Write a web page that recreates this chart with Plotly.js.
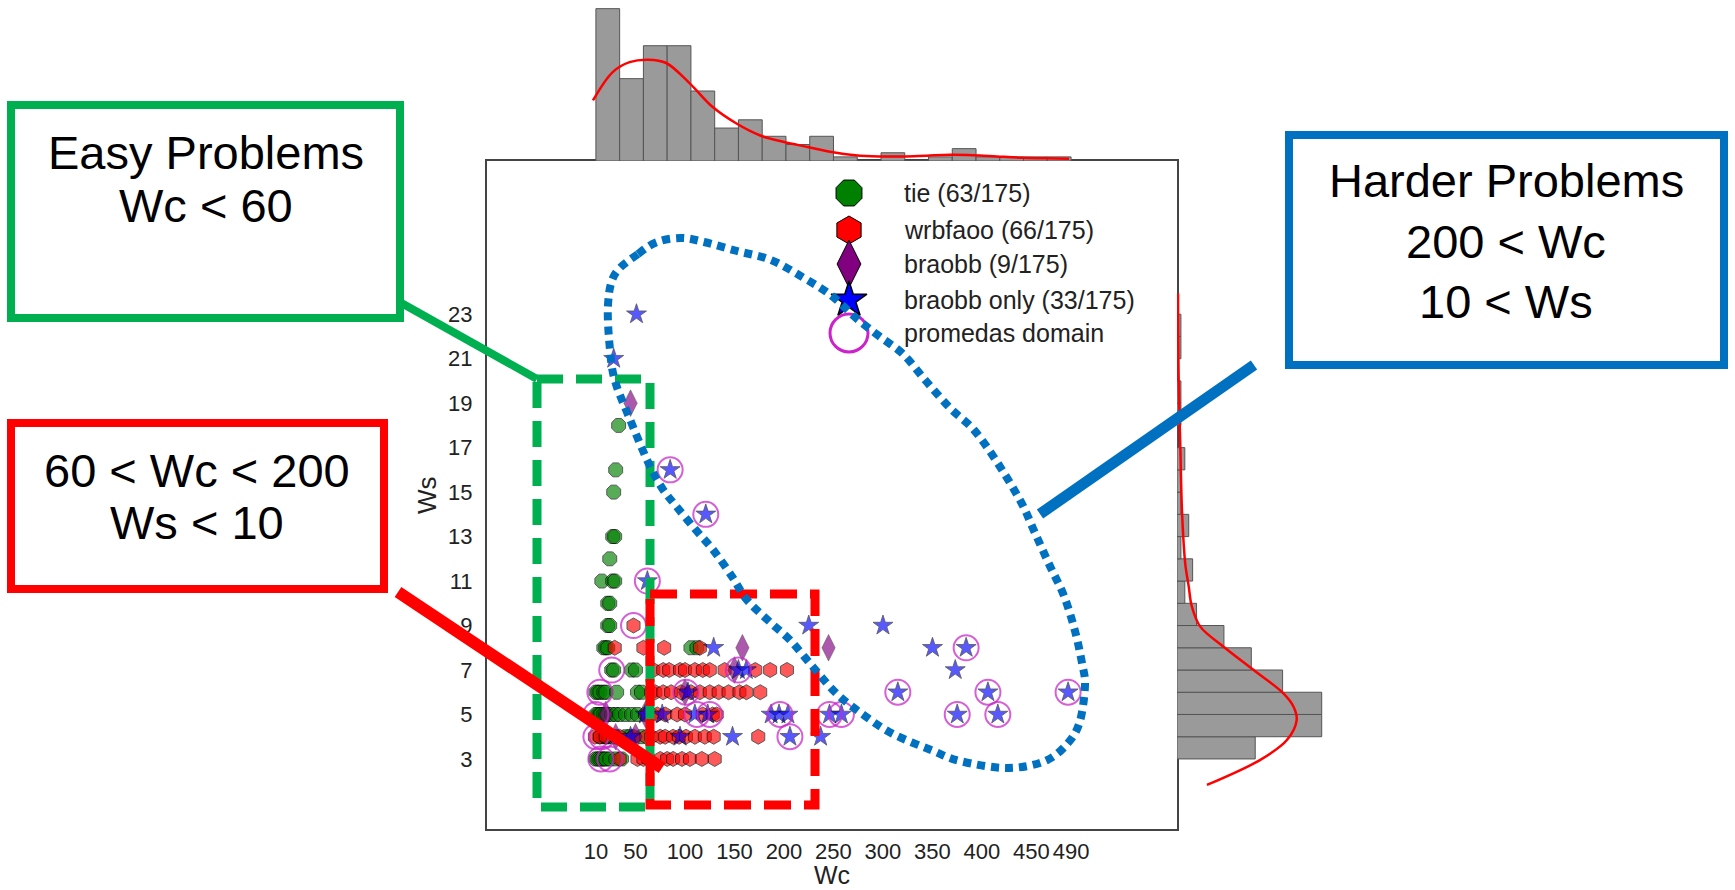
<!DOCTYPE html>
<html>
<head>
<meta charset="utf-8">
<script src="https://cdn.plot.ly/plotly-3.0.1.min.js"></script>
<style>html,body{margin:0;padding:0;background:#fff;}#chart{width:1735px;height:890px;}</style>
</head>
<body>
<div id="chart"></div>
<script>
// ---------------- data ----------------
const xTickVals = [10, 50, 100, 150, 200, 250, 300, 350, 400, 450, 490];
const yTickVals = [3, 5, 7, 9, 11, 13, 15, 17, 19, 21, 23];

// tie (63/175)
const tieX = [33,30,28,27,29,24,16,27,29,22,24,22,24,18,20,22,106,112,26,28,46,50,
  10,12,14,18,20,31,52,56,
  10,12,14,15,18,20,22,26,30,34,40,46,52,60,
  14,18,20,22,24,28,30,40,44,56,
  10,12,14,16,18,20,24,30,36];
const tieY = [18,16,15,13,13,12,11,11,11,10,10,9,9,8,8,8,8,8,7,7,7,7,
  6,6,6,6,6,6,6,6,
  5,5,5,5,5,5,5,5,5,5,5,5,5,5,
  4,4,4,4,4,4,4,4,4,4,
  3,3,3,3,3,3,3,3,3];

// wrbfaoo (66/175)
const wrbX = [48,
  29,58,79,115,
  68,78,84,95,100,110,118,125,140,171,186,203,
  66,70,78,86,96,106,115,125,134,144,155,162,176,
  62,66,72,80,92,100,118,128,132,
  9,14,20,34,48,61,66,75,80,88,94,101,110,120,129,174,
  34,52,58,63,75,82,88,97,105,117,130];
const wrbY = [9,
  8,8,8,8,
  7,7,7,7,7,7,7,7,7,7,7,7,
  6,6,6,6,6,6,6,6,6,6,6,6,6,
  5,5,5,5,5,5,5,5,5,
  4,4,4,4,4,4,4,4,4,4,4,4,4,4,4,4,
  3,3,3,3,3,3,3,3,3,3,3];

// braobb (9/175)
const braX = [45,158,245,50,20,60,100,150,30];
const braY = [19,8,8,4,5,5,6,7,4];

// braobb only (33/175)
const onlyX = [51,28,85,121,62,225,300,129,350,384,373,154,162,103,315,406,487,77,110,123,187,195,204,246,258,375,416,148,206,237,60,45,95];
const onlyY = [23,21,16,14,11,9,9,8,8,8,7,7,7,6,6,6,6,5,5,5,5,5,5,5,5,5,5,4,4,4,5,4,4];

// promedas domain
const promX = [85,121,62,48,384,26,154,315,406,487,14,101,112,125,196,246,258,375,416,10,206,10,16,15,24];
const promY = [16,14,11,9,8,7,7,6,6,6,6,6,5,5,5,5,5,5,5,5,4,4,4,3,3];

// marginal histogram of Wc (20 bins, 10..490)
const wcBinStart = 10, wcBinWidth = 24;
const wcCounts = [37,20,28,28,17,8,10,6,4,6,1,0,2,0,1,3,1,1,1,1];
const wcKdeX = [7,27,44,63,81,105,128,152,176,200,224,248,272,296,320,344,368,391,415,440,463,488];
const wcKdeY = [14.7,21.6,24.0,24.6,23.8,18.8,13.1,9.1,6.2,4.6,3.4,2.2,1.4,1.1,1.1,1.3,1.5,1.4,1.1,0.8,0.65,0.57];

// marginal histogram of Ws (20 bins, 3..23)
const wsBinStart = 3, wsBinWidth = 1;
const wsCounts = [20,37,37,27,19,12,5,2,4,1,3,1,1,2,0,1,1,0,1,1];
const wsKdeY = [1.83,2.96,3.85,4.75,5.35,5.95,7.0,8.05,8.95,9.85,10.75,11.8,14.05,17.04,20.04,23.94];
const wsKdeX = [7.65,21.3,28.1,30.6,29.8,27.2,19.6,11.9,5.95,3.8,3.0,2.1,1.3,0.85,0.43,0.26];

const legendLabels = ['tie (63/175)', 'wrbfaoo (66/175)', 'braobb (9/175)', 'braobb only (33/175)', 'promedas domain'];

// ---------------- layout helpers ----------------
const W = 1735, H = 890;
const fx = p => p / W, fy = p => 1 - p / H;
const BOX = {l: 487, r: 1177, t: 161, b: 829};

const wcCenters = wcCounts.map((c, i) => wcBinStart + wcBinWidth * (i + 0.5));
const wsCenters = wsCounts.map((c, i) => wsBinStart + wsBinWidth * (i + 0.5));

const FONT = 'Liberation Sans, Arial, sans-serif';

const traces = [
  // marginal histograms
  {type:'bar', x: wcCenters, y: wcCounts, width: wcBinWidth, xaxis:'x', yaxis:'y2',
   marker:{color:'#9a9a9a', line:{color:'#555', width:1}}, showlegend:false, hoverinfo:'skip'},
  {type:'scatter', mode:'lines', x: wcKdeX, y: wcKdeY, xaxis:'x', yaxis:'y2',
   line:{color:'#ff0000', width:2.5, shape:'spline'}, showlegend:false, hoverinfo:'skip'},
  {type:'bar', orientation:'h', y: wsCenters, x: wsCounts, width: wsBinWidth, xaxis:'x3', yaxis:'y',
   marker:{color:'#9a9a9a', line:{color:'#555', width:1}}, showlegend:false, hoverinfo:'skip'},
  {type:'scatter', mode:'lines', x: wsKdeX, y: wsKdeY, xaxis:'x3', yaxis:'y',
   line:{color:'#ff0000', width:2.5, shape:'spline'}, showlegend:false, hoverinfo:'skip', cliponaxis:false},
  // scatter
  {type:'scatter', mode:'markers', x: tieX, y: tieY, xaxis:'x', yaxis:'y',
   marker:{symbol:'octagon', size:15, color:'#008000', opacity:0.65, line:{color:'#000', width:1}}, showlegend:false},
  {type:'scatter', mode:'markers', x: wrbX, y: wrbY, xaxis:'x', yaxis:'y',
   marker:{symbol:'hexagon', size:15, color:'#ff0000', opacity:0.65, line:{color:'#000', width:1}}, showlegend:false},
  {type:'scatter', mode:'markers', x: braX, y: braY, xaxis:'x', yaxis:'y',
   marker:{symbol:'diamond-tall', size:19, color:'#800080', opacity:0.65, line:{color:'#000', width:0.5}}, showlegend:false},
  {type:'scatter', mode:'markers', x: onlyX, y: onlyY, xaxis:'x', yaxis:'y',
   marker:{symbol:'star', size:15, color:'#0000ff', opacity:0.65, line:{color:'#000', width:0.8}}, showlegend:false},
  {type:'scatter', mode:'markers', x: promX, y: promY, xaxis:'x', yaxis:'y',
   marker:{symbol:'circle-open', size:25, color:'rgba(200,40,200,0.75)', line:{width:2}}, showlegend:false},
];

// custom legend (pixel overlay axes)
const legX = 849, legRows = [193, 230, 264, 300, 333];
const legStyles = [
  {symbol:'octagon', size:28, color:'#008000', line:{color:'#000', width:1}},
  {symbol:'hexagon', size:28, color:'#ff0000', line:{color:'#000', width:1}},
  {symbol:'diamond-tall', size:34, color:'#800080', line:{color:'#000', width:1}},
  {symbol:'star', size:27, color:'#0000ff', line:{color:'#000', width:1.5}},
  {symbol:'circle-open', size:38, color:'#cc22cc', line:{width:3}},
];
legStyles.forEach((m, i) => {
  traces.push({type:'scatter', mode:'markers', x:[legX], y:[legRows[i]], xaxis:'x4', yaxis:'y4',
    marker:m, showlegend:false, hoverinfo:'skip'});
});

// closed Catmull-Rom spline path (pixel coords)
function closedSpline(pts) {
  const n = pts.length, r = v => v.toFixed(1);
  let d = 'M' + r(pts[0][0]) + ',' + r(pts[0][1]);
  for (let i = 0; i < n; i++) {
    const p0 = pts[(i - 1 + n) % n], p1 = pts[i], p2 = pts[(i + 1) % n], p3 = pts[(i + 2) % n];
    const c1 = [p1[0] + (p2[0] - p0[0]) / 6, p1[1] + (p2[1] - p0[1]) / 6];
    const c2 = [p2[0] - (p3[0] - p1[0]) / 6, p2[1] - (p3[1] - p1[1]) / 6];
    d += ` C${r(c1[0])},${r(c1[1])} ${r(c2[0])},${r(c2[1])} ${r(p2[0])},${r(p2[1])}`;
  }
  return d + ' Z';
}
const loopPts = [[638,254],[657,242],[681,238],[704,242],[737,251],[771,260],[804,278],[832,296],[856,318],[879,336],[903,354],[926,381],[950,408],[974,430],[997,462],[1021,502],[1035,533],[1049,564],[1064,596],[1075,631],[1082,663],[1085,685],[1080,721],[1068,743],[1045,761],[1007,768],[960,761],[931,750],[893,734],[865,716],[837,694],[813,667],[790,640],[771,623],[747,600],[733,578],[714,551],[695,529],[676,506],[662,488],[648,462],[629,417],[615,381],[610,350],[608,305],[615,274]];

const GREEN = '#00b050', RED = '#ff0000', BLUE = '#0070c0';
const px = {xref:'x4', yref:'y4'};
const shapes = [
  // dashed regions
  Object.assign({type:'rect', x0:537, x1:650, y0:379, y1:807, line:{color:GREEN, width:9, dash:'26px,13px'}, layer:'above'}, px),
  Object.assign({type:'rect', x0:650, x1:815, y0:594, y1:805, line:{color:RED, width:9, dash:'27px,13px'}, layer:'above'}, px),
  // dotted loop
  Object.assign({type:'path', path: closedSpline(loopPts), line:{color:BLUE, width:8, dash:'8px,6px'}, layer:'above'}, px),
  // connectors
  Object.assign({type:'line', x0:396, y0:300, x1:537, y1:379, line:{color:GREEN, width:8}, layer:'above'}, px),
  Object.assign({type:'line', x0:398, y0:592, x1:662, y1:768, line:{color:RED, width:12}, layer:'above'}, px),
  Object.assign({type:'line', x0:1254, y0:365, x1:1040, y1:514, line:{color:BLUE, width:11}, layer:'above'}, px),
  // text boxes
  Object.assign({type:'rect', x0:11, x1:400, y0:105, y1:318, line:{color:GREEN, width:8}, fillcolor:'#fff', layer:'above'}, px),
  Object.assign({type:'rect', x0:11, x1:384, y0:423, y1:589, line:{color:RED, width:8}, fillcolor:'#fff', layer:'above'}, px),
  Object.assign({type:'rect', x0:1289, x1:1724, y0:135, y1:365, line:{color:BLUE, width:8}, fillcolor:'#fff', layer:'above'}, px),
];

const bigFont = {family: FONT, size: 47, color: '#000'};
const ann = (t, x, y, font, extra) => Object.assign({text:t, x:x, y:y, xref:'x4', yref:'y4', showarrow:false, xanchor:'center', yanchor:'middle', font:font}, extra || {});
const annotations = [
  ann('Easy Problems', 206, 152, bigFont),
  ann('Wc &lt; 60', 206, 205, bigFont),
  ann('60 &lt; Wc &lt; 200', 197, 470, bigFont),
  ann('Ws &lt; 10', 197, 522, bigFont),
  ann('Harder Problems', 1506, 180, bigFont),
  ann('200 &lt; Wc', 1506, 241, bigFont),
  ann('10 &lt; Ws', 1506, 301, bigFont),
  ann('Wc', 832, 875, {family: FONT, size: 25, color: '#222'}),
  ann('Ws', 427, 495, {family: FONT, size: 26, color: '#222'}, {textangle: -90}),
];
legendLabels.forEach((t, i) => annotations.push(ann(t, 902, legRows[i], {family: FONT, size: 25, color: '#222'}, {xanchor:'left'})));

const layout = {
  width: W, height: H,
  margin: {l:0, r:0, t:0, b:0},
  paper_bgcolor: '#fff', plot_bgcolor: 'rgba(0,0,0,0)',
  showlegend: false, hovermode: false, bargap: 0,
  xaxis: {domain:[fx(BOX.l), fx(BOX.r)], range:[-100, 597], anchor:'y',
    tickvals: xTickVals, ticktext: xTickVals.map(String),
    showgrid:false, zeroline:false, showline:true, mirror:true, linecolor:'#444', linewidth:2,
    ticks:'outside', ticklen:2, tickcolor:'rgba(0,0,0,0)',
    tickfont:{family: FONT, size: 22, color:'#222'}},
  yaxis: {domain:[fy(BOX.b), fy(BOX.t)], range:[-0.15, 29.89], anchor:'x',
    tickvals: yTickVals, ticktext: yTickVals.map(String),
    showgrid:false, zeroline:false, showline:true, mirror:true, linecolor:'#444', linewidth:2,
    ticks:'outside', ticklen:8, tickcolor:'rgba(0,0,0,0)',
    tickfont:{family: FONT, size: 22, color:'#222'}},
  yaxis2: {domain:[fy(BOX.t), 1], range:[0, 39.1], anchor:'x', visible:false},
  xaxis3: {domain:[fx(BOX.r), fx(BOX.r + 176)], range:[0, 45], anchor:'y', visible:false},
  xaxis4: {domain:[0, 1], range:[0, W], anchor:'y4', visible:false},
  yaxis4: {domain:[0, 1], range:[H, 0], anchor:'x4', visible:false},
  shapes: shapes,
  annotations: annotations,
};

Plotly.newPlot('chart', traces, layout, {staticPlot:true, displayModeBar:false});
</script>
</body>
</html>
